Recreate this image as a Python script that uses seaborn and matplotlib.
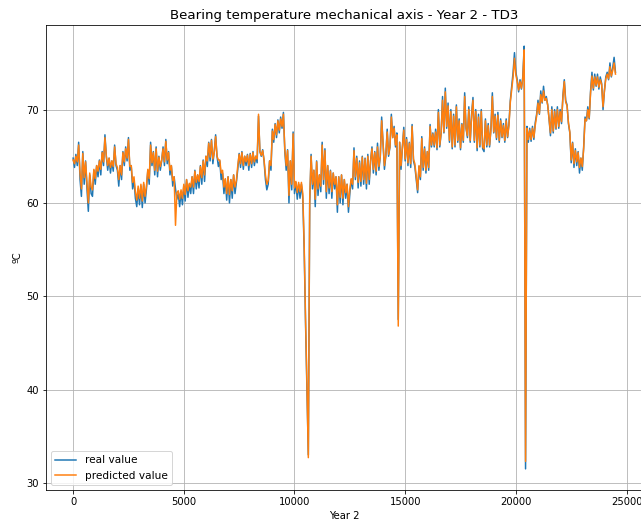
import matplotlib
matplotlib.use("Agg")
import matplotlib.pyplot as plt
import seaborn as sns

# measured temperature (real), one row per 1000 samples, a reading every 62.5 samples
real_value = [
    64.8, 63.8, 65.2, 64.0, 66.5, 62.5, 60.7, 65.5, 62.0, 64.5, 61.5, 59.1, 63.0, 61.0, 60.7, 63.5,
    62.0, 64.0, 62.8, 64.6, 63.0, 65.5, 64.0, 67.3, 65.0, 63.5, 64.8, 63.2, 64.5, 63.4, 66.2, 64.0,
    63.5, 61.8, 64.0, 62.5, 65.5, 64.0, 66.0, 64.5, 67.0, 63.5, 64.0, 61.5, 62.5, 60.5, 59.6, 61.5,
    59.8, 61.8, 59.5, 62.0, 60.0, 61.5, 63.5, 62.0, 66.5, 64.0, 65.5, 63.0, 66.0, 62.8, 65.0, 63.5,
    64.5, 66.0, 64.0, 66.8, 64.2, 65.5, 63.0, 64.0, 61.8, 62.8, 61.5, 60.4, 61.0, 59.6, 61.2, 59.8,
    61.8, 60.2, 62.5, 60.6, 62.0, 61.0, 62.8, 61.0, 63.5, 61.5, 63.0, 61.6, 64.0, 62.0, 64.6, 62.3,
    65.0, 63.9, 66.5, 64.5, 66.8, 64.2, 65.5, 67.3, 65.0, 63.9, 64.5, 62.5, 63.2, 61.0, 62.5, 60.3,
    62.8, 60.0, 62.5, 60.5, 63.0, 61.0, 62.2, 63.6, 65.3, 63.8, 65.5, 63.6, 65.0, 64.0, 65.2, 63.5,
    65.3, 63.8, 65.5, 64.0, 65.0, 64.3, 69.3, 65.5, 65.0, 65.7, 64.5, 62.5, 61.4, 62.0, 64.5, 63.5,
    67.9, 66.5, 68.5, 67.0, 68.9, 67.5, 69.2, 68.0, 69.7, 65.5, 63.5, 65.7, 60.0, 64.5, 61.4, 67.6,
    61.0, 62.2, 60.4, 62.0, 60.5, 62.0, 60.5, 55.0, 47.0, 40.0, 33.0, 60.0, 65.2, 61.5, 63.5, 59.6,
    64.5, 60.8, 63.0, 61.2, 66.5, 62.0, 65.8, 60.5, 64.0, 61.0, 63.5, 60.5, 63.2, 61.5, 62.8, 59.0,
    62.8, 60.0, 63.0, 59.8, 62.5, 60.5, 62.0, 59.0, 61.0, 62.5, 61.5, 65.9, 62.5, 65.0, 61.6, 64.5,
    61.8, 65.0, 62.0, 64.8, 61.5, 65.2, 62.0, 64.5, 66.0, 63.2, 65.5, 63.0, 66.4, 63.5, 65.0, 69.2,
    66.5, 63.6, 65.0, 67.9, 65.0, 66.0, 69.5, 67.0, 68.2, 66.0, 67.5, 47.5, 66.5, 63.6, 66.0, 68.1,
    64.5, 67.0, 64.0, 66.5, 63.8, 68.4, 64.5, 63.9, 62.5, 61.1, 63.9, 62.5, 67.1, 63.5, 66.0, 63.2,
    65.5, 63.5, 68.4, 66.0, 67.5, 66.0, 67.9, 65.7, 70.0, 66.0, 67.5, 71.4, 67.5, 72.3, 68.0, 70.7,
    66.5, 70.0, 65.8, 69.5, 66.0, 70.5, 66.5, 69.0, 65.7, 68.5, 66.5, 71.8, 68.0, 67.0, 70.3, 66.5,
    69.5, 71.3, 66.5, 70.0, 65.6, 69.5, 66.0, 70.0, 65.8, 65.5, 69.0, 66.0, 68.5, 66.0, 68.0, 71.8,
    67.5, 69.5, 66.8, 69.7, 66.5, 69.0, 67.0, 68.5, 66.5, 69.0, 67.0, 68.5, 71.0, 72.5, 74.0, 76.1,
    74.0, 73.2, 71.9, 73.2, 72.2, 73.5, 76.8, 31.5, 68.2, 66.5, 68.0, 66.6, 68.2, 66.8, 68.6, 69.5,
    71.0, 69.5, 72.0, 70.7, 72.5, 71.0, 71.4, 70.5, 69.0, 67.2, 70.3, 67.5, 70.0, 67.9, 70.3, 68.0,
    70.0, 68.5, 71.5, 73.2, 71.0, 70.5, 68.5, 67.5, 64.3, 66.5, 63.8, 65.8, 64.0, 65.5, 63.2, 64.8,
    63.5, 66.0, 69.2, 68.8, 70.3, 69.0, 72.0, 74.0, 72.1, 73.8, 72.5, 73.8, 72.2, 73.5, 72.8, 70.0,
    72.0, 73.5, 74.0, 73.2, 75.0, 73.5, 74.5, 75.6, 74.0,
]

# model prediction, same sampling
predicted_value = [
    64.6, 64.2, 65.0, 64.4, 66.2, 63.2, 61.5, 65.3, 62.7, 64.4, 62.2, 60.0, 63.2, 61.7, 61.4, 63.6,
    62.6, 64.0, 63.4, 64.5, 63.6, 65.4, 64.4, 67.0, 65.0, 64.0, 64.8, 63.8, 64.5, 63.9, 66.0, 64.2,
    63.8, 62.5, 64.0, 63.0, 65.4, 64.4, 65.8, 64.8, 66.8, 63.9, 64.0, 62.2, 62.8, 61.2, 60.3, 61.8,
    60.5, 62.0, 60.2, 62.2, 60.7, 61.8, 63.6, 62.6, 66.2, 64.3, 65.4, 63.5, 65.8, 63.4, 64.9, 63.9,
    64.6, 65.8, 64.4, 66.6, 64.6, 65.4, 63.5, 64.0, 62.4, 62.8, 57.6, 61.1, 61.3, 60.4, 61.4, 60.5,
    62.0, 60.9, 62.5, 61.3, 62.1, 61.7, 62.8, 61.7, 63.4, 62.2, 63.0, 62.3, 63.9, 62.7, 64.5, 63.0,
    65.0, 64.5, 66.4, 64.9, 66.7, 64.7, 65.4, 67.1, 65.0, 64.6, 64.6, 63.2, 63.5, 61.7, 62.6, 61.0,
    62.8, 60.9, 62.5, 61.3, 63.0, 61.7, 62.4, 64.0, 65.2, 64.2, 65.4, 64.0, 65.0, 64.4, 65.1, 64.0,
    65.2, 64.2, 65.4, 64.4, 65.0, 64.7, 69.5, 65.5, 65.1, 65.6, 64.6, 63.0, 62.0, 62.4, 64.5, 64.0,
    67.7, 66.8, 68.4, 67.3, 68.8, 67.8, 69.0, 68.2, 69.5, 65.8, 64.0, 65.6, 60.8, 64.5, 62.0, 67.4,
    61.6, 62.3, 61.1, 62.2, 61.2, 62.2, 61.0, 55.5, 47.5, 40.5, 32.7, 60.4, 65.0, 62.0, 63.5, 60.4,
    64.4, 61.5, 63.0, 61.8, 66.2, 62.5, 65.6, 61.2, 64.0, 61.6, 63.4, 61.2, 63.2, 62.0, 62.8, 59.8,
    62.8, 60.6, 63.0, 60.5, 62.5, 61.1, 62.0, 59.6, 61.5, 62.6, 62.0, 65.6, 62.8, 64.8, 62.2, 64.3,
    62.3, 64.9, 62.5, 64.7, 62.1, 65.0, 62.5, 64.5, 65.8, 63.6, 65.4, 63.4, 66.0, 63.9, 65.0, 68.8,
    66.4, 64.0, 65.1, 67.6, 65.2, 66.0, 69.2, 67.0, 68.0, 66.2, 67.3, 46.8, 66.5, 64.0, 66.0, 67.8,
    64.7, 66.8, 64.3, 66.4, 64.2, 68.2, 64.7, 64.2, 62.8, 61.4, 64.0, 62.8, 66.9, 63.8, 65.8, 63.5,
    65.5, 63.8, 68.2, 66.2, 67.4, 66.2, 67.6, 65.9, 69.7, 66.2, 67.5, 71.0, 67.6, 71.9, 68.2, 70.4,
    66.7, 69.8, 66.0, 69.3, 66.2, 70.3, 66.7, 68.8, 65.9, 68.4, 66.7, 71.4, 68.0, 67.2, 70.0, 66.7,
    69.3, 71.0, 66.7, 69.8, 65.9, 69.2, 66.2, 69.8, 66.0, 65.8, 68.8, 66.2, 68.3, 66.2, 67.9, 71.4,
    67.6, 69.3, 67.0, 69.4, 66.7, 68.8, 67.1, 68.3, 66.7, 68.8, 67.1, 68.3, 70.8, 72.2, 73.5, 75.5,
    73.7, 73.0, 72.1, 73.0, 72.3, 73.3, 76.4, 32.3, 68.0, 66.8, 67.8, 66.8, 68.0, 67.0, 68.3, 69.3,
    70.7, 69.6, 71.6, 70.8, 72.0, 71.0, 71.2, 70.5, 69.0, 67.5, 70.0, 67.7, 69.8, 68.0, 70.0, 68.2,
    69.8, 68.7, 71.3, 73.0, 70.8, 70.4, 68.6, 67.6, 64.6, 66.4, 64.2, 65.6, 64.4, 65.4, 63.8, 64.8,
    63.9, 65.8, 69.0, 68.8, 70.0, 69.1, 71.8, 73.6, 72.3, 73.5, 72.6, 73.5, 72.4, 73.2, 72.7, 70.3,
    72.0, 73.3, 73.8, 73.3, 74.6, 73.6, 74.2, 75.0, 73.8,
]

SAMPLE_STEP = 62.5
sample_idx = [i * SAMPLE_STEP for i in range(len(real_value))]

assert len(sample_idx) == len(real_value) == len(predicted_value)

DPI = 72
fig = plt.figure(figsize=(641 / DPI, 525 / DPI), dpi=DPI)
ax = fig.add_axes([46 / 641, 35 / 525, 596.6 / 641, 465 / 525])

sns.lineplot(x=sample_idx, y=real_value, ax=ax, label="real value",
             color="#1f77b4", linewidth=1.5, sort=False, estimator=None)
sns.lineplot(x=sample_idx, y=predicted_value, ax=ax, label="predicted value",
             color="#ff7f0e", linewidth=1.5, sort=False, estimator=None)

ax.grid(True, color="#b0b0b0", linewidth=0.8)
ax.set_title("Bearing temperature mechanical axis - Year 2 - TD3", fontsize=13.4)
ax.set_xlabel("Year 2")
ax.set_ylabel("ºC")
ax.legend(loc="lower left", fontsize=10.5)

fig.savefig("out.png", dpi=DPI)
